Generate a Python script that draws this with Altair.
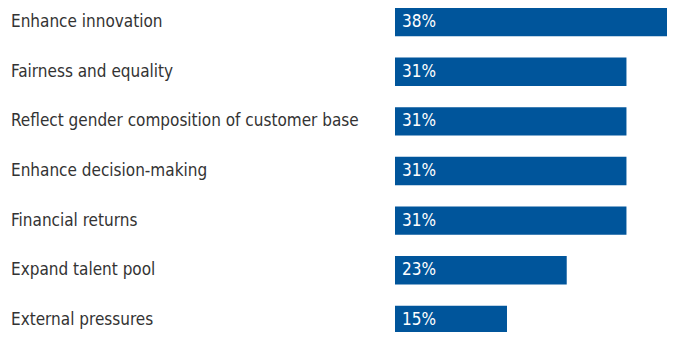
import altair as alt
import pandas as pd

categories = [
    "Enhance innovation",
    "Fairness and equality",
    "Reflect gender composition of customer base",
    "Enhance decision-making",
    "Financial returns",
    "Expand talent pool",
    "External pressures",
]
values = [38, 31, 31, 31, 31, 23, 15]
labels = [f"{v}%" for v in values]

df = pd.DataFrame({"category": categories, "value": values, "label": labels})

FONT = "DejaVu Sans Condensed, Liberation Sans Narrow, sans-serif"

y = alt.Y("category:N", sort=categories, axis=None,
          scale=alt.Scale(paddingInner=0.43, paddingOuter=0, range=[0, 326]))

bars = alt.Chart(df).mark_bar(color="#00559B", clip=True).encode(
    x=alt.X("value:Q", axis=None, scale=alt.Scale(domain=[0, 36.43], nice=False)),
    y=y,
)

pct = alt.Chart(df).mark_text(
    align="left", baseline="middle", color="white", font=FONT, fontSize=17
).encode(x=alt.value(7), y=y, text="label:N")

names = alt.Chart(df).mark_text(
    align="left", baseline="middle", color="#333333", font=FONT, fontSize=17
).encode(x=alt.value(-384), y=y, text="category:N")

chart = alt.layer(bars, pct, names).properties(
    width=272, height=324,
    autosize=alt.AutoSizeParams(type="none"),
    padding={"left": 387, "top": 0, "right": 0, "bottom": 0},
).configure_view(stroke=None)

chart.save("out.html", embed_options={"renderer": "svg", "actions": False})
